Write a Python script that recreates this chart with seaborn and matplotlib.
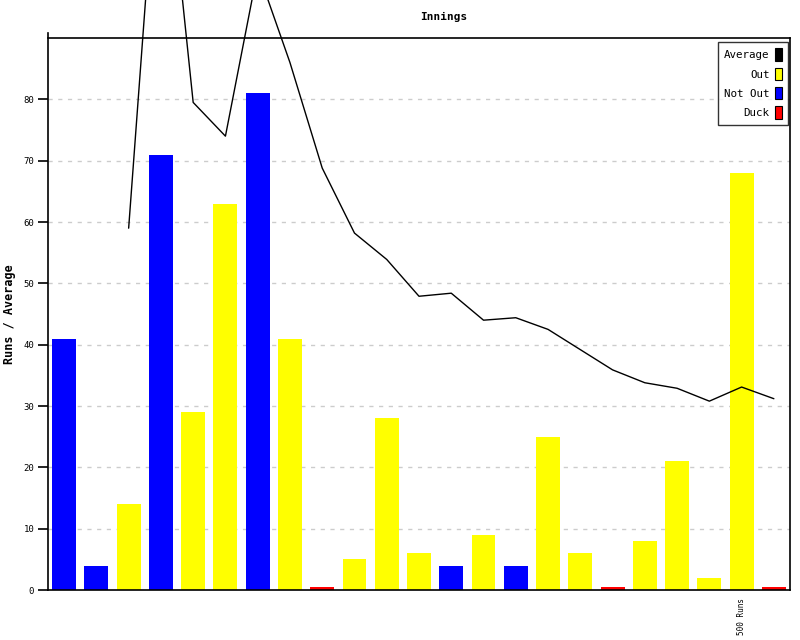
import matplotlib
matplotlib.use("Agg")
import matplotlib.pyplot as plt
from matplotlib.patches import Patch
import seaborn as sns
import pandas as pd
import numpy as np

innings = list(range(1, 24))
runs = [41, 4, 14, 71, 29, 63, 81, 41, 0.5, 5, 28, 6, 4, 9, 4, 25, 6, 0.5, 8, 21, 2, 68, 0.5]
kind = ["Not Out", "Not Out", "Out", "Not Out", "Out", "Out", "Not Out", "Out", "Duck",
        "Out", "Out", "Out", "Not Out", "Out", "Not Out", "Out", "Out", "Duck",
        "Out", "Out", "Out", "Out", "Duck"]
average = [np.nan, np.nan, 59, 130, 79.5, 74, 101, 86, 68.8, 58.2, 53.9, 47.9, 48.4,
           44.0, 44.4, 42.5, 39.2, 35.9, 33.8, 32.9, 30.8, 33.1, 31.2]
tick_labels = [""] * 21 + ["500 Runs", ""]
colors = {"Average": "#000000", "Out": "#ffff00", "Not Out": "#0000ff", "Duck": "#ff0000"}

df = pd.DataFrame({"pos": list(range(len(runs))), "runs": runs, "kind": kind, "avg": average})

sns.set_style("white")
plt.rcParams["font.family"] = ["DejaVu Sans Mono"]
plt.rcParams.update({"text.color": "black", "axes.labelcolor": "black",
                     "xtick.color": "black", "ytick.color": "black"})

fig = plt.figure(figsize=(8, 6.4), dpi=100)
ax = fig.add_axes([0.06, 0.078, 0.9275, 0.8626])

sns.barplot(data=df, x="pos", y="runs", hue="kind", palette=colors, dodge=False,
            width=0.74, legend=False, ax=ax, saturation=1, linewidth=0)
sns.lineplot(data=df.dropna(), x="pos", y="avg", color="black", linewidth=1,
             ax=ax, clip_on=False, zorder=5)

ax.set_xlim(-0.5, len(runs) - 0.5)
ax.set_ylim(0, 90)
ax.set_yticks(range(0, 90, 10))
ax.set_yticklabels([str(v) for v in range(0, 90, 10)], fontsize=6.5)
ax.set_xticks(range(len(runs)))
ax.set_xticklabels(tick_labels, rotation=90, fontsize=5.5)
ax.tick_params(axis="x", length=0, pad=6)
ax.tick_params(axis="y", length=7, width=1.2, direction="out", left=True, color="black", pad=3)
for v in range(10, 90, 10):
    ax.axhline(v, color="#cccccc", linestyle=(0, (3, 4)), linewidth=1, zorder=0)
ax.set_axisbelow(True)

for s in ax.spines.values():
    s.set_color("black")
    s.set_linewidth(1.2)
ax.spines["left"].set_bounds(0, 90.8)

ax.set_xlabel("")
ax.set_ylabel("Runs / Average", fontsize=8.5, fontweight="bold", labelpad=5)
fig.text(0.555, 0.973, "Innings", ha="center", va="center", fontsize=8, fontweight="bold")

handles = [Patch(facecolor=colors[k], edgecolor="black", linewidth=0.8) for k in ["Average", "Out", "Not Out", "Duck"]]
leg = ax.legend(handles, ["Average", "Out", "Not Out", "Duck"], loc="upper right",
                markerfirst=False, fontsize=7.8, frameon=True, fancybox=False,
                edgecolor="black", handlelength=0.6, handleheight=1.4, handletextpad=0.5,
                labelspacing=0.62, borderpad=0.6, borderaxespad=0,
                bbox_to_anchor=(0.9975, 0.9928))
leg.get_frame().set_linewidth(1)
for t in leg.get_texts():
    t.set_ha("right")

fig.savefig("out.png", dpi=100)
